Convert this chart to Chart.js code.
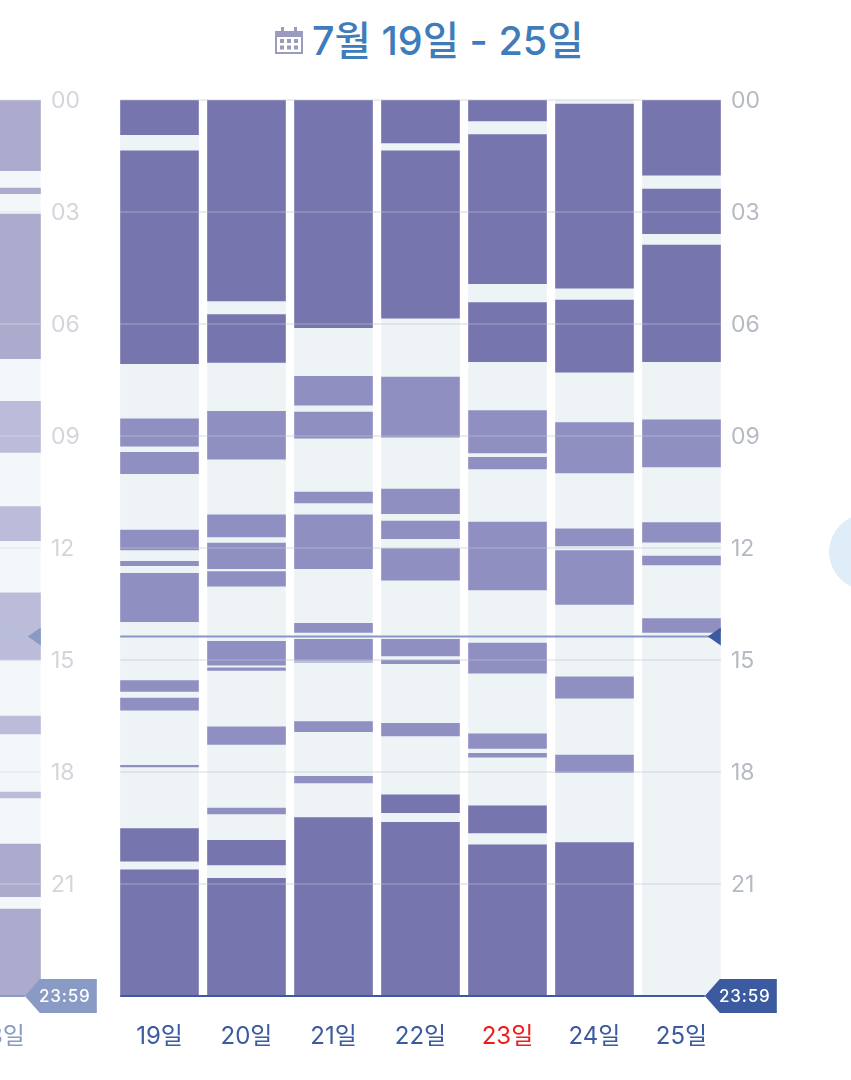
<!DOCTYPE html>
<html lang="ko">
<head>
<meta charset="utf-8">
<title>주간 수면 기록</title>
<script src="https://cdn.jsdelivr.net/npm/chart.js@4/dist/chart.umd.min.js"></script>
<style>
  html, body { margin: 0; padding: 0; width: 851px; height: 1080px; overflow: hidden; background: #fff; }
  body { position: relative; font-family: "Inter", "Noto Sans CJK KR", sans-serif; }
  canvas { position: absolute; top: 0; display: block; }
  #prevWeek { left: -50px; opacity: 0.6; }
  #thisWeek { left: 0; }
  #heading { position: absolute; left: 312px; top: 14px; line-height: 54px; font-size: 39.5px; font-weight: 500; color: #3f7cba; white-space: nowrap; }
  #calendar { position: absolute; left: 275px; top: 27px; }
  #nextButton { position: absolute; left: 829px; top: 514px; width: 76px; height: 76px; border-radius: 50%; background: #deedf7; }
</style>
</head>
<body>
<svg id="calendar" width="28" height="28" viewBox="0 0 28 28">
  <path fill="#9b9bbd" fill-rule="evenodd" d="M0 4h6V0h3v4h10V0h3v4h6v23H0zM2 10v15h24V10z"/>
  <g fill="#9b9bbd">
    <rect x="5" y="12" width="4" height="4"/><rect x="12" y="12" width="4" height="4"/><rect x="19" y="12" width="4" height="4"/>
    <rect x="5" y="18.5" width="4" height="4"/><rect x="12" y="18.5" width="4" height="4"/><rect x="19" y="18.5" width="4" height="4"/>
  </g>
</svg>
<div id="heading">7월 19일 - 25일</div>
<div id="nextButton"></div>
<canvas id="prevWeek" width="200" height="1080"></canvas>
<canvas id="thisWeek" width="851" height="1080"></canvas>
<script>
// Sleep blocks per day, in hours after midnight, as [start, end] pairs.
const hourLabels = ['00', '03', '06', '09', '12', '15', '18', '21'];
const dayLabels = ['19일', '20일', '21일', '22일', '23일', '24일', '25일'];
const prevDayLabels = ['18일'];
const sundayLabel = '23일';

const deep18 = [[0, 1.90], [2.35, 2.52], [3.05, 6.94], [19.92, 21.35], [21.66, 24]];
const light18 = [[8.06, 9.45], [10.88, 11.81], [13.19, 15.01], [16.49, 16.99], [18.53, 18.70]];

const deep19 = [[0, 0.94], [1.35, 7.07], [19.51, 20.40], [20.61, 24]];
const light19 = [[8.53, 9.28], [9.43, 10.02], [11.51, 12.06], [12.35, 12.48], [12.67, 13.98], [15.54, 15.85], [16.01, 16.35], [17.81, 17.87]];

const deep20 = [[0, 5.39], [5.74, 7.04], [19.82, 20.50], [20.84, 24]];
const light20 = [[8.33, 9.63], [11.10, 11.71], [11.86, 12.56], [12.62, 13.03], [14.49, 15.15], [15.20, 15.29], [16.78, 17.27], [18.96, 19.13]];

const deep21 = [[0, 6.11], [19.21, 24]];
const light21 = [[7.39, 8.18], [8.35, 9.07], [10.49, 10.80], [11.10, 12.56], [14.01, 14.27], [14.44, 15.02], [15.04, 15.07], [16.64, 16.93], [18.11, 18.30]];

const deep22 = [[0, 1.16], [1.35, 5.85], [18.60, 19.10], [19.34, 24]];
const light22 = [[7.41, 9.04], [10.41, 11.09], [11.27, 11.76], [12.01, 12.87], [14.44, 14.90], [14.99, 15.11], [16.69, 17.04]];

const deep23 = [[0, 0.57], [0.92, 4.93], [5.42, 7.02], [18.90, 19.64], [19.94, 24]];
const light23 = [[8.31, 9.46], [9.56, 9.89], [11.30, 13.13], [14.54, 15.36], [16.97, 17.38], [17.49, 17.61]];

const deep24 = [[0.10, 5.05], [5.35, 7.30], [19.88, 24]];
const light24 = [[8.63, 10.00], [11.48, 11.95], [12.06, 13.52], [15.44, 16.03], [17.54, 18.02]];

const deep25 = [[0, 2.02], [2.38, 3.59], [3.88, 7.02]];
const light25 = [[8.56, 9.84], [11.31, 11.85], [12.21, 12.46], [13.88, 14.27]];

const nowHour = 14.37;
const endHour = 23.98;
const endLabel = '23:59';

const COLORS = {
  track: '#eef3f6',
  deep: '#7675ae',
  light: '#8f8fc2',
  grid: 'rgba(190,195,205,0.32)',
  nowLine: '#8696c9',
  accent: '#3c5aa0',
  hourText: '#b5bac3',
  dayText: '#3c5aa0',
  sundayText: '#f01c1c'
};

// One floating-bar dataset per sleep block, layered over a full-day track.
function buildDatasets(labels, deepByDay, lightByDay) {
  const sets = [];
  const block = (day, range, color, order) => sets.push({
    data: [{ x: day, y: range }],
    backgroundColor: color,
    borderWidth: 0,
    borderSkipped: false,
    grouped: false,
    order,
    barPercentage: 1,
    categoryPercentage: 78.6 / 87
  });
  labels.forEach((day) => block(day, [0, 24], COLORS.track, 1));
  labels.forEach((day, i) => {
    deepByDay[i].forEach((r) => block(day, r, COLORS.deep, 0));
    lightByDay[i].forEach((r) => block(day, r, COLORS.light, 0));
  });
  return sets;
}

// Hour rules laid over the bars, then the current-time line and the day-end tag.
const overlayPlugin = {
  id: 'sleepOverlay',
  afterDatasetsDraw(chart) {
    const { ctx, scales: { y } } = chart;
    const bars = chart.data.labels.map((_, i) => chart.getDatasetMeta(i).data[0]);
    const first = bars[0];
    const last = bars[bars.length - 1];
    const left = first.x - first.width / 2;
    const right = last.x + last.width / 2;

    ctx.save();
    ctx.strokeStyle = COLORS.grid;
    ctx.lineWidth = 2;
    hourLabels.forEach((_, i) => {
      const py = y.getPixelForValue(i * 3);
      ctx.beginPath();
      ctx.moveTo(left, py);
      ctx.lineTo(right, py);
      ctx.stroke();
    });

    const nowY = y.getPixelForValue(nowHour);
    ctx.strokeStyle = COLORS.nowLine;
    ctx.beginPath();
    ctx.moveTo(left, nowY);
    ctx.lineTo(right - 10, nowY);
    ctx.stroke();
    ctx.fillStyle = COLORS.accent;
    ctx.beginPath();
    ctx.moveTo(right - 13, nowY);
    ctx.lineTo(right, nowY - 9);
    ctx.lineTo(right, nowY + 9);
    ctx.closePath();
    ctx.fill();

    // The rule sits just under the bars' lower edge.
    const endY = y.getPixelForValue(endHour) + 0.75;
    const tip = right - 16;
    ctx.strokeStyle = COLORS.accent;
    ctx.beginPath();
    ctx.moveTo(left, endY);
    ctx.lineTo(tip, endY);
    ctx.stroke();
    ctx.beginPath();
    ctx.moveTo(tip, endY);
    ctx.lineTo(right - 1, endY - 17);
    ctx.lineTo(right + 56, endY - 17);
    ctx.lineTo(right + 56, endY + 17);
    ctx.lineTo(right - 1, endY + 17);
    ctx.closePath();
    ctx.fill();

    ctx.fillStyle = '#fff';
    ctx.font = '500 17px Inter, sans-serif';
    ctx.letterSpacing = '0.8px';
    ctx.textAlign = 'center';
    ctx.textBaseline = 'middle';
    ctx.fillText(endLabel, right + 24, endY + 0.5);
    ctx.restore();
  }
};

function makeChart(id, labels, deepByDay, lightByDay, paddingLeft, axisWidth) {
  return new Chart(document.getElementById(id), {
    type: 'bar',
    data: { labels, datasets: buildDatasets(labels, deepByDay, lightByDay) },
    plugins: [overlayPlugin],
    options: {
      responsive: false,
      animation: false,
      devicePixelRatio: 1,
      layout: { padding: { left: paddingLeft, top: 100, right: 0, bottom: 0 } },
      plugins: { legend: { display: false }, tooltip: { enabled: false }, title: { display: false } },
      scales: {
        x: {
          type: 'category',
          grid: { display: false },
          border: { display: false },
          afterFit: (s) => { s.height = 84; },
          ticks: {
            padding: 18,
            maxRotation: 0,
            autoSkip: false,
            font: { family: 'Inter, "Noto Sans CJK KR", sans-serif', size: 24, weight: '400' },
            color: (c) => (labels[c.index] === sundayLabel ? COLORS.sundayText : COLORS.dayText)
          }
        },
        y: {
          position: 'right',
          reverse: true,
          min: 0,
          max: 24,
          grid: { display: false, tickLength: 0 },
          border: { display: false },
          afterFit: (s) => { s.width = axisWidth; },
          ticks: {
            stepSize: 3,
            padding: 6,
            autoSkip: false,
            // A blank first line with a tiny line height nudges the digits onto the rule.
            font: { family: 'Inter, sans-serif', size: 23, weight: '400', lineHeight: '3px' },
            color: COLORS.hourText,
            callback: (v) => (hourLabels[v / 3] === undefined ? undefined : ['', hourLabels[v / 3]])
          }
        }
      }
    }
  });
}

makeChart('prevWeek', prevDayLabels, [deep18], [light18], 8, 105);
makeChart('thisWeek', dayLabels,
  [deep19, deep20, deep21, deep22, deep23, deep24, deep25],
  [light19, light20, light21, light22, light23, light24, light25],
  116, 126);
</script>
</body>
</html>
